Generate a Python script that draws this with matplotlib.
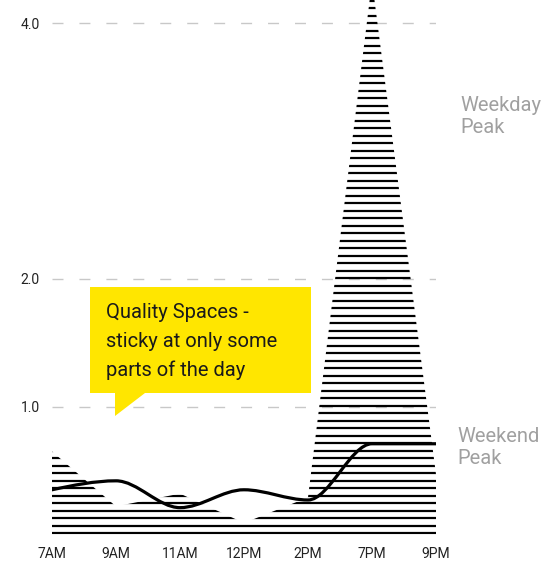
import numpy as np
import matplotlib
matplotlib.use("Agg")
import matplotlib.pyplot as plt
from matplotlib.path import Path
from matplotlib.patches import PathPatch, Polygon

# values
hours = ["7AM", "9AM", "11AM", "12PM", "2PM", "7PM", "9PM"]
weekday = [0.65, 0.22, 0.32, 0.09, 0.29, 4.33, 0.47]
weekend = [0.35, 0.42, 0.21, 0.35, 0.27, 0.71, 0.71]
yticks = [1.0, 2.0, 4.0]
note = ["Quality Spaces -", "sticky at only some", "parts of the day"]

W, H = 545, 561
plt.rcParams["font.family"] = ["Roboto", "DejaVu Sans"]


def px(x, y):
    """pixel position (from top-left) -> figure fraction"""
    return x / W, 1 - y / H


def monotone_path(x, y):
    # same tangents as d3.curveMonotoneX, drawn as cubic beziers
    x = np.asarray(x, float)
    y = np.asarray(y, float)
    h = np.diff(x)
    s = np.diff(y) / h
    n = len(x)
    t = np.zeros(n)
    for i in range(1, n - 1):
        p = (s[i - 1] * h[i] + s[i] * h[i - 1]) / (h[i - 1] + h[i])
        sg = (1 if s[i - 1] >= 0 else -1) + (1 if s[i] >= 0 else -1)
        t[i] = sg * min(abs(s[i - 1]), abs(s[i]), 0.5 * abs(p))
    t[0] = (3 * s[0] - t[1]) / 2
    t[-1] = (3 * s[-1] - t[-2]) / 2
    verts = [(x[0], y[0])]
    codes = [Path.MOVETO]
    for i in range(n - 1):
        d = h[i] / 3
        verts += [(x[i] + d, y[i] + d * t[i]),
                  (x[i + 1] - d, y[i + 1] - d * t[i + 1]),
                  (x[i + 1], y[i + 1])]
        codes += [Path.CURVE4] * 3
    return Path(verts, codes)


fig = plt.figure(figsize=(W / 100, H / 100), dpi=100)
ax = fig.add_axes([52 / W, (H - 534.5) / H, 384 / W, 534.5 / H])

xs = np.arange(len(hours))
ax.set_xlim(0, len(hours) - 1)
ax.set_ylim(0, 534.5 / 127.8)

for v in yticks:
    ax.axhline(v, color="#c8c8c8", lw=1.0, dashes=(7.9, 11.5), zorder=0.5)

# weekday area drawn as horizontal stripes clipped to the area
area = Polygon(list(zip(xs, weekday)) + [(xs[-1], 0), (xs[0], 0)],
               closed=True, fill=False, edgecolor="none",
               transform=ax.transData)
ax.add_patch(area)
ys = np.arange(0.01, 4.5, 0.0587)
stripes = ax.hlines(ys, -0.5, len(hours), color="black", lw=1.6, zorder=1)
stripes.set_clip_path(area)

# weekend line
ax.add_patch(PathPatch(monotone_path(xs, weekend), fill=False,
                       edgecolor="black", lw=2.3, zorder=3,
                       capstyle="round", joinstyle="round"))

ax.set_xticks(xs, labels=hours)
ax.set_yticks(yticks, labels=[f"{v:.1f}" for v in yticks])
ax.tick_params(length=0, labelsize=10, colors="#222222")
ax.tick_params(axis="x", pad=9)
ax.tick_params(axis="y", pad=9)
for sp in ax.spines.values():
    sp.set_visible(False)

# side labels
fig.text(*px(460, 116.5), "Weekday\nPeak", color="#a0a0a0", fontsize=14.5,
         ha="left", va="center", linespacing=1.25)
fig.text(*px(457, 447.5), "Weekend\nPeak", color="#a0a0a0", fontsize=14.5,
         ha="left", va="center", linespacing=1.25)

# yellow callout
yellow = "#ffe600"
bubble = Polygon([px(90, 287), px(311, 287), px(311, 393), px(145, 393),
                  px(115, 416), px(115, 393), px(90, 393)],
                 closed=True, facecolor=yellow, edgecolor="none",
                 transform=fig.transFigure, zorder=5)
fig.add_artist(bubble)
for i, line in enumerate(note):
    fig.text(*px(106, 312.7 + 28.7 * i), line, fontsize=14.5,
             color="#1a1a1a", ha="left", va="center", zorder=6)

fig.savefig("out.png", dpi=100)
